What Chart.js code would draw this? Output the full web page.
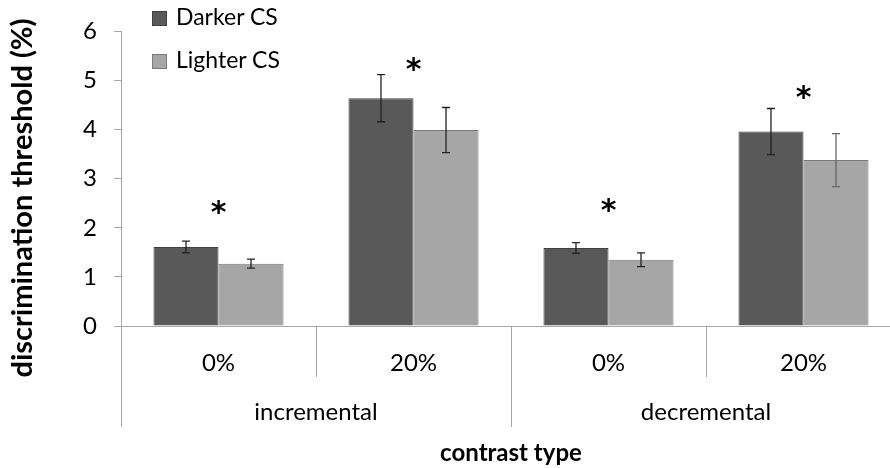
<!DOCTYPE html>
<html>
<head>
<meta charset="utf-8">
<script src="https://cdn.jsdelivr.net/npm/chart.js@4.4.0/dist/chart.umd.min.js"></script>
<style>
  html, body { margin: 0; padding: 0; background: #fff; overflow: hidden; }
  #wrap { position: relative; width: 902px; height: 468px; }
  .legend { position: absolute; left: 152px; font-family: Lato, sans-serif; font-size: 23px; color: #000; }
  .legend span { display: inline-block; width: 13px; height: 13px; margin-right: 9px; vertical-align: -1px; }
</style>
</head>
<body>
<div id="wrap">
  <canvas id="chart" width="902" height="468"></canvas>
  <div class="legend" style="top:2px"><span style="background:#595959;border:1px solid #404040"></span>Darker CS</div>
  <div class="legend" style="top:45px"><span style="background:#a6a6a6;border:1px solid #7a7a7a"></span>Lighter CS</div>
</div>
<script>
const categories = ['0%', '20%', '0%', '20%'];
const groups = ['incremental', 'decremental'];
const darker = [1.61, 4.64, 1.59, 3.96];
const lighter = [1.27, 3.99, 1.35, 3.38];
const darkerErr = [0.12, 0.48, 0.11, 0.47];
const lighterErr = [0.09, 0.46, 0.14, 0.54];
const starY = [2.38, 5.30, 2.42, 4.73];
const yTicks = [0, 1, 2, 3, 4, 5, 6];

const FONT = 'Lato, sans-serif';

// error bars, asterisks, grouped category dividers and the y title
const extras = {
  id: 'extras',
  afterDatasetsDraw(chart) {
    const ctx = chart.ctx;
    const x = chart.scales.x, y = chart.scales.y;
    const errs = [darkerErr, lighterErr];
    const vals = [darker, lighter];
    ctx.save();
    [0, 1].forEach((d) => {
      const meta = chart.getDatasetMeta(d);
      meta.data.forEach((bar, i) => {
        const top = y.getPixelForValue(vals[d][i] + errs[d][i]);
        const bot = y.getPixelForValue(vals[d][i] - errs[d][i]);
        ctx.strokeStyle = (d === 1 && i === 3) ? '#666' : '#222';
        ctx.lineWidth = 1.3;
        ctx.beginPath();
        ctx.moveTo(bar.x, top); ctx.lineTo(bar.x, bot);
        ctx.moveTo(bar.x - 4, top); ctx.lineTo(bar.x + 4, top);
        ctx.moveTo(bar.x - 4, bot); ctx.lineTo(bar.x + 4, bot);
        ctx.stroke();
      });
    });
    ctx.fillStyle = '#000';
    ctx.font = 'bold 30px "DejaVu Sans", sans-serif';
    ctx.textAlign = 'center';
    ctx.textBaseline = 'middle';
    starY.forEach((v, i) => {
      ctx.fillText('*', x.getPixelForValue(i), y.getPixelForValue(v) + 5);
    });

    // dividers below the axis
    const base = y.getPixelForValue(0);
    const half = (x.getPixelForValue(1) - x.getPixelForValue(0)) / 2;
    ctx.strokeStyle = '#a6a6a6';
    ctx.lineWidth = 1;
    for (let i = 0; i <= categories.length; i++) {
      const px = Math.round(x.getPixelForValue(0) - half + i * 2 * half) + 0.5;
      const long = i % 2 === 0;
      ctx.beginPath();
      ctx.moveTo(px, base);
      ctx.lineTo(px, long ? base + 101 : base + 51);
      ctx.stroke();
    }
    ctx.fillStyle = '#000';
    ctx.font = '24px ' + FONT;
    groups.forEach((g, j) => {
      const cx = (x.getPixelForValue(j * 2) + x.getPixelForValue(j * 2 + 1)) / 2;
      ctx.fillText(g, cx, base + 86);
    });

    // y axis title
    ctx.translate(23, 198);
    ctx.rotate(-Math.PI / 2);
    ctx.font = 'bold 29px ' + FONT;
    ctx.fillText('discrimination threshold (%)', 0, 0);
    ctx.restore();
  }
};

new Chart(document.getElementById('chart'), {
  type: 'bar',
  data: {
    labels: categories,
    datasets: [
      { label: 'Darker CS', data: darker, backgroundColor: '#595959', borderColor: '#404040', borderWidth: 1 },
      { label: 'Lighter CS', data: lighter, backgroundColor: '#a6a6a6', borderColor: '#7a7a7a', borderWidth: 1 },
    ],
  },
  options: {
    responsive: false,
    animation: false,
    layout: { padding: { top: 15, right: 1, left: 0, bottom: 0 } },
    categoryPercentage: 0.667,
    barPercentage: 1.0,
    plugins: { legend: { display: false }, tooltip: { enabled: false } },
    scales: {
      x: {
        grid: { display: false, drawTicks: false },
        border: { display: true, color: '#a6a6a6' },
        ticks: { color: '#000', font: { family: FONT, size: 24 }, padding: 23 },
        title: { display: true, text: 'contrast type', color: '#000', font: { family: FONT, size: 24, weight: 'bold' }, padding: { top: 0, bottom: 0 } },
        afterFit(scale) { scale.height = 142; },
      },
      y: {
        min: 0,
        max: 6,
        afterBuildTicks(scale) { scale.ticks = yTicks.map((v) => ({ value: v })); },
        grid: { drawOnChartArea: false, tickLength: 7, color: '#a6a6a6' },
        border: { display: true, color: '#a6a6a6' },
        ticks: { color: '#000', font: { family: FONT, size: 24 }, padding: 17 },
        title: { display: false },
        afterFit(scale) { scale.width = 121; },
      },
    },
  },
  plugins: [extras],
});
</script>
</body>
</html>
